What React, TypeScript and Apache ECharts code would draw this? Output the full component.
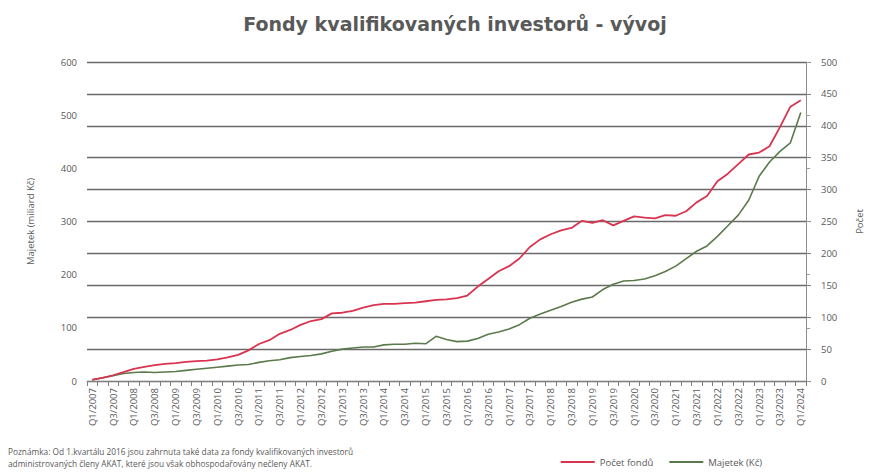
import React, { useEffect, useRef } from "react";
import * as echarts from "echarts";

const quarters: string[] = [
  "Q1/2007","Q2/2007","Q3/2007","Q4/2007","Q1/2008","Q2/2008","Q3/2008","Q4/2008",
  "Q1/2009","Q2/2009","Q3/2009","Q4/2009","Q1/2010","Q2/2010","Q3/2010","Q4/2010",
  "Q1/2011","Q2/2011","Q3/2011","Q4/2011","Q1/2012","Q2/2012","Q3/2012","Q4/2012",
  "Q1/2013","Q2/2013","Q3/2013","Q4/2013","Q1/2014","Q2/2014","Q3/2014","Q4/2014",
  "Q1/2015","Q2/2015","Q3/2015","Q4/2015","Q1/2016","Q2/2016","Q3/2016","Q4/2016",
  "Q1/2017","Q2/2017","Q3/2017","Q4/2017","Q1/2018","Q2/2018","Q3/2018","Q4/2018",
  "Q1/2019","Q2/2019","Q3/2019","Q4/2019","Q1/2020","Q2/2020","Q3/2020","Q4/2020",
  "Q1/2021","Q2/2021","Q3/2021","Q4/2021","Q1/2022","Q2/2022","Q3/2022","Q4/2022",
  "Q1/2023","Q2/2023","Q3/2023","Q4/2023","Q1/2024",
];

// Počet fondů (right axis)
const pocetFondu: number[] = [
  2, 5, 9, 14, 19, 22, 25, 27, 28, 30, 31, 32, 34, 37, 41, 48,
  58, 64, 74, 80, 88, 94, 97, 106, 107, 110, 115, 119, 121, 121, 122, 123,
  125, 127, 128, 130, 134, 148, 160, 172, 180, 192, 210, 222, 230, 236, 240, 251,
  248, 252, 244, 251, 258, 256, 255, 260, 259, 266, 280, 290, 313, 325, 340, 355,
  358, 368, 398, 430, 440,
];

// Majetek (miliard Kč) (left axis)
const majetek: number[] = [
  2, 6, 10, 14, 16, 17, 16, 17, 18, 20, 22, 24, 26, 28, 30, 31,
  35, 38, 40, 44, 46, 48, 51, 56, 60, 62, 64, 64, 68, 69, 69, 71,
  70, 84, 78, 74, 75, 80, 88, 92, 98, 106, 118, 126, 133, 140, 148, 154,
  158, 172, 182, 188, 189, 192, 198, 206, 216, 230, 244, 254, 272, 292, 312, 340,
  385, 412, 432, 448, 505,
];

const leftTicks = { min: 0, max: 600, interval: 100 };
const rightTicks = { min: 0, max: 500, interval: 50 };

const titleText = "Fondy kvalifikovaných investorů - vývoj";
const noteLines = [
  "Poznámka: Od 1.kvartálu 2016 jsou zahrnuta také data za fondy kvalifikovaných investorů",
  "administrovaných členy AKAT, které jsou však obhospodařovány nečleny AKAT.",
];
const seriesNames = ["Počet fondů", "Majetek (Kč)"];

const RED = "#d9344f";
const GREEN = "#5b7a4b";
const GRAY = "#595959";
const FONT = "'Open Sans', 'Liberation Sans', sans-serif";

export default function App() {
  const ref = useRef<HTMLDivElement>(null);
  useEffect(() => {
    if (!ref.current) return;
    const chart = echarts.init(ref.current, null, { renderer: "svg" });
    chart.setOption({
      animation: false,
      backgroundColor: "#ffffff",
      textStyle: { fontFamily: FONT },
      title: {
        text: titleText,
        left: 450,
        top: 9,
        textAlign: "center",
        textStyle: { fontSize: 19, fontWeight: "bold", color: GRAY, fontFamily: "'DejaVu Sans', sans-serif" },
      },
      legend: {
        right: 105,
        bottom: 0,
        itemWidth: 34,
        itemHeight: 2,
        itemGap: 16,
        icon: "rect",
        textStyle: { fontSize: 9.5, color: GRAY, fontFamily: FONT },
        data: seriesNames,
      },
      grid: { left: 87, right: 56, top: 62, bottom: 91 },
      xAxis: {
        type: "category",
        data: quarters,
        boundaryGap: true,
        axisLine: { show: true, lineStyle: { color: "#7f7f7f", width: 1 } },
        axisTick: { show: true, interval: 0, length: 5, lineStyle: { color: "#7f7f7f" } },
        axisLabel: { interval: 1, rotate: 90, fontSize: 9.5, color: GRAY, margin: 7, fontFamily: FONT },
        splitLine: { show: false },
      },
      yAxis: [
        {
          type: "value",
          position: "left",
          min: leftTicks.min,
          max: leftTicks.max,
          interval: leftTicks.interval,
          name: "Majetek (miliard Kč)",
          nameLocation: "middle",
          nameGap: 52,
          nameRotate: 90,
          nameTextStyle: { fontSize: 9.5, color: GRAY, fontFamily: FONT },
          axisLine: { show: false },
          axisTick: { show: false },
          axisLabel: { fontSize: 9.5, color: GRAY, margin: 10, fontFamily: FONT },
          splitLine: { show: false },
        },
        {
          type: "value",
          position: "right",
          min: rightTicks.min,
          max: rightTicks.max,
          interval: rightTicks.interval,
          name: "Počet",
          nameLocation: "middle",
          nameGap: 48,
          nameRotate: 90,
          nameTextStyle: { fontSize: 9.5, color: GRAY, fontFamily: FONT },
          axisLine: { show: true, lineStyle: { color: "#8c8c8c", width: 1 } },
          axisTick: { show: true, length: 5, lineStyle: { color: "#7f7f7f" } },
          axisLabel: { fontSize: 9.5, color: GRAY, margin: 15, fontFamily: FONT },
          splitLine: { show: true, lineStyle: { color: "#6a6a6a", width: 1.3 } },
        },
        {
          type: "value",
          position: "right",
          min: leftTicks.min,
          max: leftTicks.max,
          interval: leftTicks.interval,
          axisLine: { show: false },
          axisTick: { show: true, length: 4, lineStyle: { color: "#9a9a9a" } },
          axisLabel: { show: false },
          splitLine: { show: false },
        },
      ],
      series: [
        {
          name: seriesNames[0],
          type: "line",
          yAxisIndex: 1,
          data: pocetFondu,
          showSymbol: false,
          symbol: "none",
          lineStyle: { color: RED, width: 1.8 },
          itemStyle: { color: RED },
          z: 3,
        },
        {
          name: seriesNames[1],
          type: "line",
          yAxisIndex: 0,
          data: majetek,
          showSymbol: false,
          symbol: "none",
          lineStyle: { color: GREEN, width: 1.6 },
          itemStyle: { color: GREEN },
          z: 2,
        },
      ],
      graphic: [
        {
          type: "text",
          left: 8,
          top: 446,
          style: {
            text: noteLines.join("\n"),
            fontSize: 8.3,
            lineHeight: 11.5,
            fill: GRAY,
            fontFamily: FONT,
          },
        },
      ],
    });
    return () => chart.dispose();
  }, []);
  return (
    <div
      ref={ref}
      style={{ position: "fixed", left: 0, top: 0, width: 872, height: 472 }}
    />
  );
}
